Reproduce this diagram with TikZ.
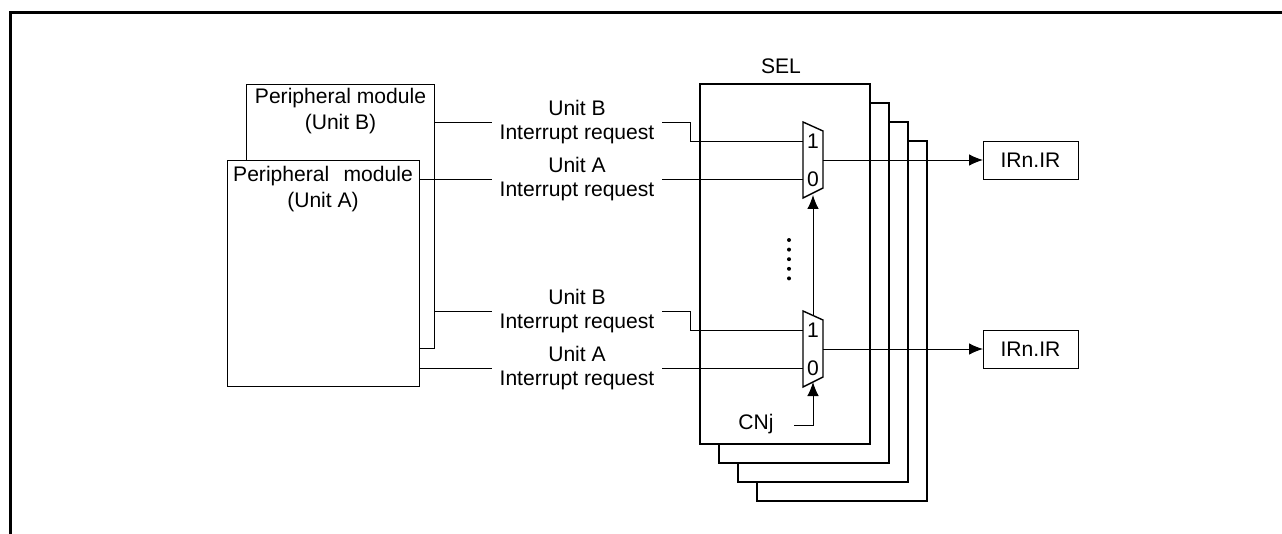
\documentclass[tikz,border=0pt]{standalone}
\usepackage{fontspec}
\setmainfont{Liberation Sans}
\usetikzlibrary{arrows.meta}
\tikzset{
  lbl/.style={inner sep=0pt,outer sep=0pt,align=center,font=\fontsize{12}{13.2}\selectfont},
  modbox/.style={draw,fill=white,line width=0.55pt,inner sep=0pt,outer sep=0pt,anchor=north west},
  selbox/.style={draw,fill=white,line width=0.8pt,inner sep=0pt,outer sep=0pt,anchor=north west,minimum width=3.4cm,minimum height=7.2cm},
  irbox/.style={modbox,lbl,minimum width=1.9cm,minimum height=0.76cm,anchor=west},
  reqlbl/.style={lbl,minimum width=3.4cm},
  namelbl/.style={lbl,anchor=north,font=\fontsize{12}{14.8}\selectfont},
  wire/.style={line width=0.55pt},
  tip/.style={wire,-{Latex[length=2.8mm,width=2.3mm]}}
}
\begin{document}
\begin{tikzpicture}[x=0.02cm,y=-0.02cm]
  \useasboundingbox (0,0) rectangle (1282,534);
  \draw[line width=0.06cm] (10.5,534) -- (10.5,12.5) -- (1282,12.5);

  \node[modbox,minimum width=3.78cm,minimum height=5.3cm] (modB) at (246,84) {};
  \node[modbox,minimum width=3.86cm,minimum height=4.54cm] (modA) at (227,160) {};
  \node[namelbl] (nameB) at (340.5,88.5) {Peripheral module\\(Unit B)};
  \node[namelbl] (nameA) at (323,166.5) {Peripheral\ \ \kern1.5pt module\\(Unit A)};

  \foreach \i in {3,2,1,0} {
    \node[selbox] (sel\i) at (700+19*\i,84+19*\i) {};
  }
  \node[lbl] (title) at (781,66) {SEL};

  \foreach \n/\y in {a/0,b/189} {
    \draw[line width=0.8pt,fill=white] (803,122+\y) -- (823,131+\y) -- (823,188+\y) -- (803,198+\y) -- cycle;
    \node[lbl] (one\n) at (813,141+\y) {1};
    \node[lbl] (zero\n) at (813,179+\y) {0};
    \coordinate (in1\n) at (803,141+\y);
    \coordinate (in0\n) at (803,179+\y);
    \coordinate (out\n) at (823,160+\y);
    \node[irbox] (ir\n) at (983,160+\y) {IRn.IR};
    \draw[tip] (out\n) -- (ir\n);
  }

  \foreach \n/\u/\y in {Ba/B/122,Aa/A/179,Bb/B/311,Ab/A/368} {
    \node[reqlbl] (req\n) at (577,\y) {Unit \u\\Interrupt request};
    \coordinate (reqw\n) at (492,\y);
    \coordinate (reqe\n) at (662,\y);
  }
  \draw[wire] (modB.east |- reqwBa) -- (reqwBa);
  \draw[wire] (modA.east |- reqwAa) -- (reqwAa);
  \draw[wire] (modB.east |- reqwBb) -- (reqwBb);
  \draw[wire] (modA.east |- reqwAb) -- (reqwAb);
  \draw[wire] (reqeBa) -- ++(28,0) |- (in1a);
  \draw[wire] (reqeAa) -- (in0a);
  \draw[wire] (reqeBb) -- ++(28,0) |- (in1b);
  \draw[wire] (reqeAb) -- (in0b);

  \coordinate (selb) at (813,193+189);
  \coordinate (topb) at (813,126.5+189);
  \coordinate (sela) at (813,195);
  \draw[tip] (topb) -- (sela);
  \node[lbl] (cnj) at (756,424) {CNj};
  \coordinate (cnjw) at (794,425);
  \draw[tip] (cnjw) -| (selb);

  \foreach \k in {0,...,4} {
    \fill (789,240+9.6*\k) circle (2);
  }
\end{tikzpicture}
\end{document}
